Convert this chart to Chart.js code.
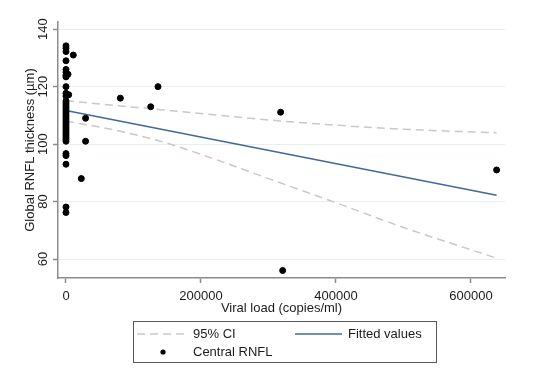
<!DOCTYPE html>
<html lang="en">
<head>
<meta charset="UTF-8">
<title>Global RNFL thickness vs viral load</title>
<script src="https://cdn.jsdelivr.net/npm/chart.js"></script>
<style>
    body { margin: 0; background: #fff; }
    #wrap { width: 533px; height: 375px; }
</style>
</head>
<body>
<div id="wrap"><canvas id="rnflChart" width="533" height="375"></canvas></div>
<script>
    // scatter: viral load (copies/ml) vs central RNFL thickness
    var rnflX = [0, 0, 0, 10800, 0, 0, 0, 3000, 0, 0, 0, 0, 4000, 0,
        0, 0, 0, 0, 0, 0, 0, 0, 0, 0, 0, 0, 0, 0, 0, 0, 0, 0, 0, 0, 0,
        0, 0, 0, 0, 0,
        22700, 29000, 29000, 80500, 125500, 136300, 318000, 321000, 638000];
    var rnflY = [134.2, 133.4, 132.2, 131.0, 129.0, 126.0, 125.0, 124.3, 124.0, 123.4, 120.0, 117.7, 117.2, 116.7,
        115.0, 114.3, 113.6, 112.9, 112.2, 111.5, 110.8, 110.1, 109.4, 108.7, 108.0, 107.3, 106.6, 105.9, 105.2, 104.5, 103.8, 103.1, 102.4, 101.7, 101.0,
        96.7, 96.0, 93.0, 78.1, 76.2,
        88.0, 109.0, 101.0, 116.0, 113.0, 120.0, 111.1, 56.0, 91.0];

    // fitted line and 95% CI
    var fitX = [0, 638000];
    var fitY = [111.7, 82.2];
    var ciX = [0, 70000, 140000, 215000, 300000, 400000, 500000, 638000];
    var ciUpper = [115.1, 113.5, 112.0, 110.3, 108.4, 106.6, 105.2, 103.9];
    var ciLower = [108.0, 105.0, 101.0, 95.2, 88.0, 79.6, 71.0, 60.3];

    var xTicks = [0, 200000, 400000, 600000];
    var xTickLabels = ['0', '200000', '400000', '600000'];
    var yTicks = [60, 80, 100, 120, 140];
    var yTickLabels = ['60', '80', '100', '120', '140'];

    var fitColor = '#43699a';
    var ciColor = '#c9c9c9';
    var axisColor = '#8c8c8c';
    var textColor = '#1c1c1c';
    var fontFamily = '"Liberation Sans", Arial, sans-serif';

    function pairs(xs, ys) {
        return xs.map(function (x, i) { return { x: x, y: ys[i] }; });
    }

    // y tick labels are drawn rotated, like the Stata original
    var yTickText = {
        id: 'yTickText',
        afterDraw: function (chart) {
            var ctx = chart.ctx;
            var ys = chart.scales.y;
            ctx.save();
            ctx.fillStyle = textColor;
            ctx.font = '13px ' + fontFamily;
            ctx.textAlign = 'center';
            ctx.textBaseline = 'middle';
            ys.ticks.forEach(function (t, i) {
                var py = ys.getPixelForValue(t.value);
                ctx.save();
                ctx.translate(43, py);
                ctx.rotate(-Math.PI / 2);
                ctx.fillText(yTickLabels[i], 0, 0);
                ctx.restore();
            });
            ctx.restore();
        }
    };

    // boxed legend under the plot
    var legendBox = {
        id: 'legendBox',
        afterDraw: function (chart) {
            var ctx = chart.ctx;
            ctx.save();
            ctx.strokeStyle = '#5a5a5a';
            ctx.lineWidth = 1;
            ctx.strokeRect(133.5, 321.5, 303, 41);

            ctx.lineWidth = 1.5;
            ctx.strokeStyle = ciColor;
            ctx.setLineDash([8, 5]);
            ctx.beginPath(); ctx.moveTo(137, 334); ctx.lineTo(186, 334); ctx.stroke();
            ctx.setLineDash([]);
            ctx.strokeStyle = fitColor;
            ctx.beginPath(); ctx.moveTo(295, 334); ctx.lineTo(342, 334); ctx.stroke();

            ctx.fillStyle = '#000';
            ctx.beginPath(); ctx.arc(163, 352, 2.6, 0, Math.PI * 2); ctx.fill();

            ctx.fillStyle = textColor;
            ctx.font = '13px ' + fontFamily;
            ctx.textBaseline = 'middle';
            ctx.fillText('95% CI', 193, 334);
            ctx.fillText('Fitted values', 348, 334);
            ctx.fillText('Central RNFL', 193, 352);
            ctx.restore();
        }
    };

    Chart.defaults.font.family = fontFamily;
    Chart.defaults.font.size = 13;
    Chart.defaults.color = textColor;

    var ctx = document.getElementById('rnflChart').getContext('2d');
    var chart = new Chart(ctx, {
        type: 'scatter',
        data: {
            datasets: [
                {
                    label: 'Central RNFL',
                    data: pairs(rnflX, rnflY),
                    backgroundColor: '#000',
                    borderColor: '#000',
                    pointRadius: 3,
                    order: 0
                },
                {
                    label: 'Fitted values',
                    data: pairs(fitX, fitY),
                    showLine: true,
                    borderColor: fitColor,
                    borderWidth: 1.6,
                    pointRadius: 0,
                    order: 1
                },
                {
                    label: '95% CI',
                    data: pairs(ciX, ciUpper),
                    showLine: true,
                    borderColor: ciColor,
                    borderWidth: 1.5,
                    borderDash: [8, 5],
                    cubicInterpolationMode: 'monotone',
                    pointRadius: 0,
                    order: 2
                },
                {
                    label: '95% CI lower',
                    data: pairs(ciX, ciLower),
                    showLine: true,
                    borderColor: ciColor,
                    borderWidth: 1.5,
                    borderDash: [8, 5],
                    cubicInterpolationMode: 'monotone',
                    pointRadius: 0,
                    order: 2
                }
            ]
        },
        options: {
            responsive: false,
            animation: false,
            layout: { padding: { left: 0, top: 22, right: 28, bottom: 0 } },
            plugins: {
                legend: { display: false },
                tooltip: { enabled: false }
            },
            scales: {
                x: {
                    type: 'linear',
                    min: -11850,
                    max: 650400,
                    afterBuildTicks: function (scale) {
                        scale.ticks = xTicks.map(function (v) { return { value: v }; });
                    },
                    afterFit: function (scale) { scale.height = 97; },
                    ticks: {
                        padding: 6,
                        maxRotation: 0,
                        font: { size: 13, lineHeight: 1.2 },
                        callback: function (v) {
                            var i = xTicks.indexOf(v);
                            return i >= 0 ? xTickLabels[i] : '';
                        }
                    },
                    grid: {
                        drawOnChartArea: false,
                        drawTicks: true,
                        tickLength: 5,
                        tickColor: axisColor,
                        tickWidth: 1.5
                    },
                    border: { color: axisColor, width: 1.5 },
                    title: {
                        display: true,
                        text: 'Viral load (copies/ml)',
                        font: { size: 13, lineHeight: 1 },
                        padding: { top: 0, bottom: 60.5 }
                    }
                },
                y: {
                    type: 'linear',
                    min: 53.4,
                    max: 142.5,
                    afterBuildTicks: function (scale) {
                        scale.ticks = yTicks.map(function (v) { return { value: v }; });
                    },
                    afterFit: function (scale) { scale.width = 58; },
                    ticks: { display: false },
                    grid: {
                        color: '#e6eff2',
                        lineWidth: 1,
                        drawTicks: true,
                        tickLength: 5,
                        tickColor: axisColor,
                        tickWidth: 1.5
                    },
                    border: { color: axisColor, width: 1.5 },
                    title: {
                        display: true,
                        text: 'Global RNFL thickness (µm)',
                        font: { size: 13, lineHeight: 1 },
                        padding: { top: 23.5, bottom: 0 }
                    }
                }
            }
        },
        plugins: [yTickText, legendBox]
    });
</script>
</body>
</html>
